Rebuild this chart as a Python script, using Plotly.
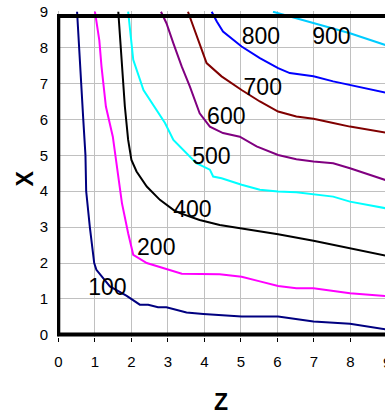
import plotly.graph_objects as go

FONT = "Liberation Sans, Arial, sans-serif"

# Contour lines: Z (horizontal) vs X (vertical)
z100 = [0.51, 0.56, 0.62, 0.68, 0.74, 0.76, 0.86, 0.98, 1.04, 1.41, 1.86, 2.23, 2.46, 2.73, 2.96, 3.51, 3.97, 5.02, 6.02, 6.99, 7.99, 9.0]
x100 = [9.0, 8.0, 7.0, 6.0, 5.0, 4.0, 3.0, 2.0, 1.81, 1.35, 1.09, 0.84, 0.84, 0.77, 0.77, 0.62, 0.58, 0.51, 0.51, 0.37, 0.31, 0.15]

z200 = [1.00, 1.12, 1.18, 1.30, 1.49, 1.63, 1.74, 1.91, 2.05, 2.42, 2.69, 2.96, 3.38, 4.42, 5.02, 5.52, 6.02, 6.52, 6.99, 7.99, 9.0]
x200 = [9.0, 8.2, 7.47, 6.36, 5.52, 4.5, 3.67, 2.83, 2.23, 2.0, 1.92, 1.83, 1.70, 1.69, 1.62, 1.49, 1.36, 1.30, 1.30, 1.16, 1.08]

z400 = [1.64, 1.74, 1.82, 1.91, 2.0, 2.14, 2.42, 2.78, 3.15, 3.33, 3.87, 4.42, 5.02, 6.02, 6.99, 7.99, 9.0]
x400 = [9.0, 7.47, 6.36, 5.43, 4.87, 4.55, 4.13, 3.76, 3.48, 3.39, 3.2, 3.06, 2.97, 2.80, 2.62, 2.41, 2.20]

z500 = [1.91, 2.0, 2.05, 2.33, 2.69, 2.92, 3.15, 3.33, 3.51, 3.78, 4.15, 4.24, 4.47, 5.02, 5.52, 6.02, 6.52, 6.99, 7.53, 7.99, 9.0]
x500 = [9.0, 8.12, 7.66, 6.82, 6.27, 5.9, 5.43, 5.25, 5.06, 4.78, 4.6, 4.41, 4.36, 4.18, 4.04, 3.99, 3.97, 3.92, 3.85, 3.71, 3.52]

z600 = [2.81, 2.96, 3.15, 3.38, 3.60, 3.87, 4.15, 4.51, 4.97, 5.43, 6.02, 6.52, 6.99, 7.53, 7.99, 9.0]
x600 = [9.0, 8.68, 8.12, 7.47, 6.92, 6.17, 5.8, 5.62, 5.52, 5.25, 5.01, 4.89, 4.83, 4.78, 4.64, 4.30]

z700 = [3.55, 3.69, 4.06, 4.47, 5.02, 5.52, 6.02, 6.52, 6.99, 7.53, 7.99, 9.0]
x700 = [9.0, 8.59, 7.57, 7.2, 6.82, 6.5, 6.22, 6.08, 6.02, 5.9, 5.8, 5.63]

z800 = [4.20, 4.34, 4.51, 5.02, 5.52, 6.02, 6.34, 6.99, 7.53, 7.99, 9.0]
x800 = [9.0, 8.73, 8.45, 8.03, 7.71, 7.43, 7.29, 7.2, 7.06, 6.96, 6.74]

z900 = [5.88, 6.98, 7.99, 9.0]
x900 = [9.0, 8.68, 8.4, 8.06]

series = [
    (z100, x100, "#000080", "100"),
    (z200, x200, "#FF00FF", "200"),
    (z400, x400, "#000000", "400"),
    (z500, x500, "#00FFFF", "500"),
    (z600, x600, "#800080", "600"),
    (z700, x700, "#800000", "700"),
    (z800, x800, "#0000FF", "800"),
    (z900, x900, "#00CCFF", "900"),
]

# Boundary lines
top_z = [-0.05, 9.0]
top_x = [8.88, 8.88]
bottom_z = [-0.05, 9.0]
bottom_x = [0.01, 0.01]
left_z = [-0.005, -0.005]
left_x = [0.01, 8.88]

# Contour labels
label_text = ["100", "200", "400", "500", "600", "700", "800", "900"]
label_z = [1.34, 2.68, 3.67, 4.19, 4.60, 5.60, 5.55, 7.48]
label_x = [1.26, 2.39, 3.43, 4.91, 6.02, 6.84, 8.27, 8.27]

tick_vals = [0, 1, 2, 3, 4, 5, 6, 7, 8, 9]

fig = go.Figure()
for zz, xx, col, name in series:
    fig.add_trace(go.Scatter(x=zz, y=xx, mode="lines", name=name,
                             line=dict(color=col, width=2), showlegend=False,
                             hoverinfo="skip"))

for zz, xx in [(top_z, top_x), (bottom_z, bottom_x), (left_z, left_x)]:
    fig.add_trace(go.Scatter(x=zz, y=xx, mode="lines",
                             line=dict(color="#000000", width=4),
                             showlegend=False, hoverinfo="skip"))

fig.add_trace(go.Scatter(x=label_z, y=label_x, mode="text", text=label_text,
                         textposition="middle center", cliponaxis=False,
                         textfont=dict(family=FONT, size=23, color="#000000"),
                         showlegend=False, hoverinfo="skip"))

fig.update_layout(
    width=385, height=418,
    margin=dict(l=57, r=0, t=11, b=81),
    paper_bgcolor="white", plot_bgcolor="white",
    font=dict(family=FONT, size=15, color="#000000"),
    xaxis=dict(range=[-0.04, 8.95], tickvals=tick_vals, ticktext=[str(v) for v in tick_vals],
               showgrid=True, gridcolor="#c0c0c0", gridwidth=1, zeroline=False,
               ticks="outside", ticklen=4, tickcolor="#000000",
               ticklabelstandoff=7, showline=False),
    yaxis=dict(range=[-0.06, 9.02], tickvals=tick_vals, ticktext=[str(v) for v in tick_vals],
               showgrid=True, gridcolor="#c0c0c0", gridwidth=1, zeroline=False,
               ticks="", ticklabelstandoff=8, showline=False),
    annotations=[
        dict(text="<b>X</b>", xref="paper", yref="paper", x=-0.099, y=0.485,
             xanchor="center", yanchor="middle",
             textangle=-90, showarrow=False, font=dict(family=FONT, size=23)),
        dict(text="<b>Z</b>", xref="paper", yref="paper", x=0.5, y=-0.2,
             xanchor="center", yanchor="middle",
             showarrow=False, font=dict(family=FONT, size=23)),
        dict(text="9", xref="paper", yref="paper", x=1.0066, y=-0.078,
             xanchor="center", yanchor="middle",
             showarrow=False, font=dict(family=FONT, size=15)),
    ],
)

fig.write_html("out.html",
               config={"displayModeBar": False, "staticPlot": True},
               post_script="document.body.style.margin='0';document.body.style.overflow='hidden';")
